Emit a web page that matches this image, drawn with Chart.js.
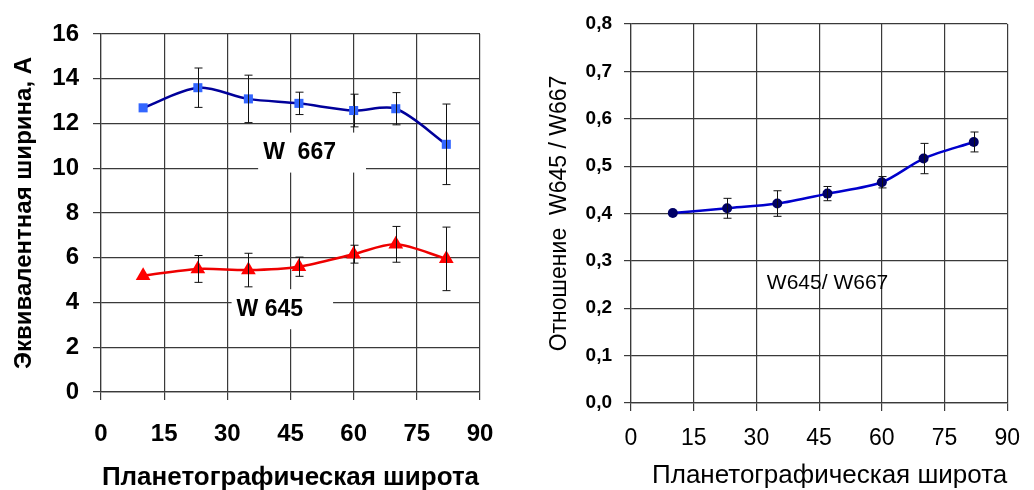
<!DOCTYPE html>
<html lang="ru">
<head>
<meta charset="UTF-8">
<title>W645 / W667</title>
<script src="https://cdn.jsdelivr.net/npm/chart.js"></script>
<style>
  body { margin: 0; background: #fff; }
  #wrap { position: relative; width: 1034px; height: 490px; }
  #left { position: absolute; left: 0; top: 0; }
  #right { position: absolute; left: 520px; top: 0; }
</style>
<script>
    // широта точек (общая для обоих графиков)
    const latitudes = [10, 23, 35, 47, 60, 70, 82];

    // левый график: эквивалентная ширина
    const w667 = [12.7, 13.6, 13.1, 12.9, 12.58, 12.66, 11.07];
    const w667err = [0, 0.88, 1.06, 0.5, 0.73, 0.72, 1.8];
    const w645 = [5.2, 5.5, 5.45, 5.6, 6.16, 6.6, 5.95];
    const w645err = [0, 0.6, 0.75, 0.43, 0.4, 0.8, 1.42];

    // правый график: отношение
    const ratio = [0.401, 0.411, 0.421, 0.442, 0.466, 0.516, 0.551];
    const ratioErr = [0, 0.021, 0.027, 0.015, 0.012, 0.032, 0.021];

    const xTicks = ['0', '15', '30', '45', '60', '75', '90'];
    const yTicksLeft = ['0', '2', '4', '6', '8', '10', '12', '14', '16'];
    const yTicksRight = ['0,0', '0,1', '0,2', '0,3', '0,4', '0,5', '0,6', '0,7', '0,8'];

    // подписи серий внутри поля графика (в координатах данных)
    const notesLeft = [
      { text: 'W  667', x: 38.5, y: 10.7 },
      { text: 'W 645', x: 32.2, y: 3.7 }
    ];
    const notesRight = [
      { text: 'W645/ W667', x: 32.5, y: 0.252 }
    ];

    const FONT = "'Liberation Sans', Arial, sans-serif";

    function pts(xs, ys) {
      return xs.map((x, i) => ({ x: x, y: ys[i] }));
    }

    // усы погрешностей рисуются через шкалы графика
    const errorBars = {
      id: 'errorBars',
      afterDatasetsDraw(chart) {
        const ctx = chart.ctx;
        const xs = chart.scales.x, ys = chart.scales.y;
        ctx.save();
        ctx.strokeStyle = '#111';
        ctx.lineWidth = 1;
        chart.data.datasets.forEach(ds => {
          if (!ds.errors) return;
          ds.data.forEach((p, i) => {
            const e = ds.errors[i];
            if (!e) return;
            const px = Math.round(xs.getPixelForValue(p.x)) + 0.5;
            const top = ys.getPixelForValue(p.y + e);
            const bot = ys.getPixelForValue(p.y - e);
            ctx.beginPath();
            ctx.moveTo(px, top); ctx.lineTo(px, bot);
            ctx.moveTo(px - 4, top); ctx.lineTo(px + 4, top);
            ctx.moveTo(px - 4, bot); ctx.lineTo(px + 4, bot);
            ctx.stroke();
          });
        });
        ctx.restore();
      }
    };

    const notes = {
      id: 'notes',
      beforeDatasetsDraw(chart, args, opts) {
        const ctx = chart.ctx;
        const xs = chart.scales.x, ys = chart.scales.y;
        ctx.save();
        ctx.font = opts.font;
        ctx.textBaseline = 'middle';
        ctx.textAlign = 'left';
        (opts.items || []).forEach(n => {
          const px = xs.getPixelForValue(n.x);
          const py = ys.getPixelForValue(n.y);
          const w = ctx.measureText(n.text).width;
          if (opts.box) {
            ctx.fillStyle = '#fff';
            ctx.fillRect(px - opts.box[0], py - opts.box[1], w + opts.box[0] + opts.box[2], opts.box[1] * 2);
          }
          ctx.fillStyle = '#000';
          ctx.fillText(n.text, px, py);
        });
        ctx.restore();
      }
    };

    function axisX(fontTicks, fontTitle, tickPad, titleAlign, titleBottom, height) {
      return {
        type: 'linear', min: 0, max: 90,
        ticks: {
          stepSize: 15, color: '#000', padding: tickPad, maxRotation: 0,
          font: fontTicks,
          callback: (v, i) => xTicks[i]
        },
        grid: { color: '#3a3a3a', lineWidth: 1.2, tickLength: 8, tickColor: '#3a3a3a' },
        border: { color: '#3a3a3a', width: 1.2 },
        title: {
          display: true, text: 'Планетографическая широта', color: '#000',
          align: titleAlign, font: fontTitle, padding: { top: 0, bottom: titleBottom }
        },
        afterFit: s => { s.height = height; }
      };
    }

    window.addEventListener('load', () => {
      Chart.defaults.font.family = FONT;

      new Chart(document.getElementById('left'), {
        type: 'line',
        data: {
          datasets: [{
            label: 'W 667',
            data: pts(latitudes, w667),
            errors: w667err,
            borderColor: '#00009a',
            borderWidth: 2.5,
            backgroundColor: '#3366ff',
            pointStyle: 'rect',
            pointRadius: 6.4,
            pointBorderWidth: 0,
            tension: 0.3
          }, {
            label: 'W 645',
            data: pts(latitudes, w645),
            errors: w645err,
            borderColor: '#ee0000',
            borderWidth: 2.5,
            backgroundColor: '#ff0000',
            pointStyle: 'triangle',
            pointRadius: 8.5,
            pointBorderWidth: 0,
            tension: 0.3
          }]
        },
        options: {
          responsive: false,
          animation: false,
          devicePixelRatio: 1,
          layout: { padding: { left: 0, top: 34, right: 40, bottom: 0 } },
          plugins: {
            legend: { display: false },
            tooltip: { enabled: false },
            notes: { items: notesLeft, font: 'bold 23px ' + FONT, box: [5, 20, 30] }
          },
          scales: {
            x: axisX({ size: 24, weight: 'bold' }, { size: 26, weight: 'bold' }, 20, 'center', -3, 98),
            y: {
              min: 0, max: 16,
              ticks: {
                stepSize: 2, color: '#000', padding: 14,
                font: { size: 24, weight: 'bold' },
                callback: (v, i) => yTicksLeft[i]
              },
              grid: { color: '#3a3a3a', lineWidth: 1.2, tickLength: 8, tickColor: '#3a3a3a' },
              border: { color: '#3a3a3a', width: 1.2 },
              title: {
                display: true, text: 'Эквивалентная ширина, А', color: '#000',
                font: { size: 24, weight: 'bold' }, padding: { top: 10, bottom: 0 }
              },
              afterFit: s => { s.width = 101; }
            }
          }
        },
        plugins: [errorBars, notes]
      });

      new Chart(document.getElementById('right'), {
        type: 'line',
        data: {
          datasets: [{
            label: 'W645/ W667',
            data: pts(latitudes, ratio),
            errors: ratioErr,
            borderColor: '#0000cc',
            borderWidth: 2.5,
            backgroundColor: '#000066',
            pointStyle: 'circle',
            pointRadius: 5,
            pointBorderWidth: 0,
            tension: 0.3
          }]
        },
        options: {
          responsive: false,
          animation: false,
          devicePixelRatio: 1,
          layout: { padding: { left: 0, top: 24, right: 12, bottom: 0 } },
          plugins: {
            legend: { display: false },
            tooltip: { enabled: false },
            notes: { items: notesRight, font: '21px ' + FONT }
          },
          scales: {
            x: axisX({ size: 23 }, { size: 26 }, 14, 'end', -1, 87),
            y: {
              min: 0, max: 0.8,
              ticks: {
                stepSize: 0.1, color: '#000', padding: 12,
                font: { size: 19, weight: 'bold' },
                callback: (v, i) => yTicksRight[i]
              },
              grid: { color: '#3a3a3a', lineWidth: 1.2, tickLength: 7, tickColor: '#3a3a3a' },
              border: { color: '#3a3a3a', width: 1.2 },
              title: {
                display: true, text: 'Отношение  W645 / W667', color: '#000',
                font: { size: 23 }, padding: { top: 26, bottom: 0 }
              },
              afterFit: s => { s.width = 111; }
            }
          }
        },
        plugins: [errorBars, notes]
      });
    });
</script>
</head>
<body>
  <div id="wrap">
    <canvas id="left" width="520" height="490"></canvas>
    <canvas id="right" width="514" height="490"></canvas>
  </div>
</body>
</html>
